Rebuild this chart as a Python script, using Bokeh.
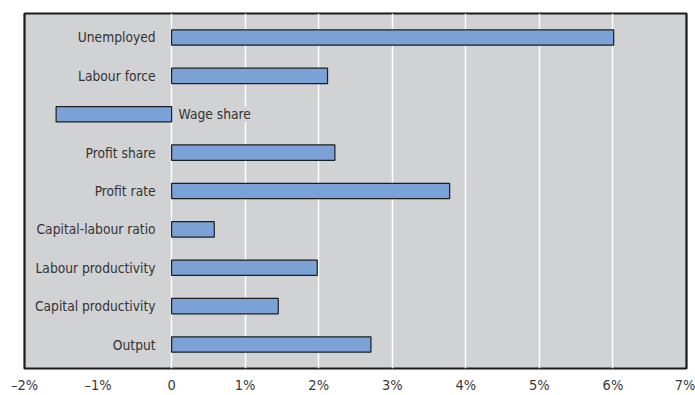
import numpy as np
from bokeh.plotting import figure
from bokeh.models import ColumnDataSource, FixedTicker, Range1d
from bokeh.core.properties import value
from bokeh.embed import file_html
from bokeh.resources import INLINE

categories = ["Unemployed", "Labour force", "Wage share", "Profit share", "Profit rate",
              "Capital-labour ratio", "Labour productivity", "Capital productivity", "Output"]
values = [6.01, 2.12, -1.57, 2.22, 3.78, 0.58, 1.98, 1.45, 2.71]
tick_values = [-2, -1, 0, 1, 2, 3, 4, 5, 6, 7]
tick_labels = ["\u20132%", "\u20131%", "0", "1%", "2%", "3%", "4%", "5%", "6%", "7%"]

FONT = "'DejaVu Sans Condensed', 'Roboto', sans-serif"

n = len(categories)
ypos = list(range(n))
src = ColumnDataSource(dict(
    y=ypos, v=values, cat=categories,
    align=["right" if v >= 0 else "left" for v in values],
    xoff=[-16 if v >= 0 else 7 for v in values],
    zero=[0] * n,
))

p = figure(width=695, height=395, output_backend="svg", toolbar_location=None,
           x_range=Range1d(-2, 7), y_range=Range1d(n - 1 + 0.625, -0.625),
           min_border_left=24, min_border_right=9, min_border_top=13, min_border_bottom=0)
p.background_fill_color = "#d1d2d4"
p.border_fill_color = "white"
p.outline_line_color = "#1a1a1a"
p.outline_line_width = 2.2

p.yaxis.visible = False
p.ygrid.visible = False
p.xgrid.ticker = FixedTicker(ticks=[0, 1, 2, 3, 4, 5, 6])
p.xgrid.grid_line_color = "white"
p.xgrid.grid_line_width = 1.5

ax = p.xaxis[0]
ax.ticker = FixedTicker(ticks=tick_values)
ax.major_label_overrides = {t: l for t, l in zip(tick_values, tick_labels)}
ax.axis_line_color = None
ax.major_tick_line_color = None
ax.minor_tick_line_color = None
ax.major_tick_out = 0
ax.major_tick_in = 0
ax.minor_tick_out = 0
ax.major_label_text_font = FONT
ax.major_label_text_font_size = "14.5px"
ax.major_label_text_color = "#3a3a3a"
ax.major_label_standoff = 8

p.hbar(y="y", left="zero", right="v", height=0.4, source=src,
       fill_color="#7ba2d6", line_color="#1e1e1e", line_width=1.2)

p.text(x="zero", y="y", text="cat", source=src, text_align="align", x_offset="xoff",
       text_baseline="middle", text_font=value(FONT), text_font_size="13.7px",
       text_color="#333333", background_fill_color="#d1d2d4")

open("out.html", "w").write(file_html(p, INLINE))
